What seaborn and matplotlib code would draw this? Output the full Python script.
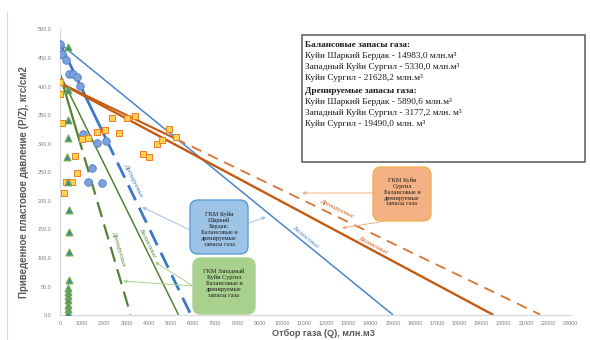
import numpy as np
import pandas as pd
import matplotlib
matplotlib.use("Agg")
import matplotlib.pyplot as plt
import seaborn as sns
from matplotlib.patches import FancyBboxPatch, Rectangle
from matplotlib.lines import Line2D
from matplotlib.transforms import IdentityTransform

# ---- measured P/Z versus cumulative production ----
# Куйи Шаркий Бердак
q_kshb = [0, 0, 100, 250, 400, 600, 750, 900, 1050, 1650, 2050, 1450, 1250, 1900]
p_kshb = [474, 455, 455, 446, 421, 421, 416, 400, 316, 300, 304, 257, 232, 230]

# Куйи Сургил
q_ks = [0, 0, 100, 670, 780, 270, 400, 520, 180, 1000, 1270, 1650, 2030, 2650,
        2350, 3000, 3370, 3720, 4030, 4370, 4600, 4900, 5220]
p_ks = [407, 385, 335, 278, 247, 232, 232, 231, 212, 307, 309, 320, 323, 318,
        344, 343, 348, 281, 276, 299, 305, 325, 311]

# Западный Куйи Сургил
q_zks = [350, 350, 380, 380, 330, 380, 400, 420, 420, 420, 380, 380, 370, 370, 370, 370, 380]
p_zks = [468, 393, 341, 309, 276, 232, 182, 145, 110, 61, 47, 40, 33, 26, 17, 9, 2]

# ---- P/Z trend lines: start value and Q where P/Z reaches zero ----
fields = ["Куйи Шаркий Бердак", "Западный Куйи Сургил", "Куйи Сургил"]
pz_start = [474.0, 420.0, 405.0]
q_zero_balance = [14983.0, 5330.0, 19490.0]
q_zero_drained = [5890.6, 3177.2, 21628.2]
q_fit_end = [2100.0, 800.0, 5200.0]

y_ticks = np.arange(0, 501, 50)
x_ticks = np.arange(0, 23001, 1000)

# ---- styling ----
sns.set_style("white")
plt.rcParams["font.family"] = ["Liberation Sans", "DejaVu Sans"]
SERIF = ["Liberation Serif", "DejaVu Serif"]

BLUE = "#4A86C8"
BLUE_DARK = "#3B78C6"
GREEN = "#548235"
ORANGE = "#C55A11"
ORANGE_D = "#D8742E"
GRAY = "#595959"

W, H = 590, 340
fig = plt.figure(figsize=(W / 100, H / 100), dpi=100)
ax = fig.add_axes([60 / W, (H - 314.5) / H, 510.5 / W, 285.8 / H])
ax.set_xlim(0, 23000)
ax.set_ylim(0, 500)


def trend(p0, q0, q_from, q_to, **kw):
    q = np.array([q_from, q_to])
    df = pd.DataFrame({"Q": q, "PZ": p0 * (1 - q / q0)})
    sns.lineplot(data=df, x="Q", y="PZ", ax=ax, legend=False, **kw)


# Куйи Шаркий Бердак
trend(pz_start[0], q_zero_balance[0], 0, q_zero_balance[0], color=BLUE, lw=1.1)
trend(pz_start[0], q_zero_drained[0], 0, q_fit_end[0], color=BLUE_DARK, lw=2.0)
trend(pz_start[0], q_zero_drained[0], q_fit_end[0], q_zero_drained[0],
      color=BLUE_DARK, lw=2.0, linestyle=(0, (6, 3)))
# Западный Куйи Сургил
trend(pz_start[1], q_zero_balance[1], 0, q_zero_balance[1], color=GREEN, lw=1.1)
trend(pz_start[1], q_zero_drained[1], 0, q_fit_end[1], color=GREEN, lw=1.6)
trend(pz_start[1], q_zero_drained[1], q_fit_end[1], q_zero_drained[1],
      color=GREEN, lw=1.6, linestyle=(0, (7, 3.5)))
# Куйи Сургил
trend(pz_start[2], q_zero_balance[2], 0, q_zero_balance[2], color=ORANGE, lw=1.7)
trend(pz_start[2], q_zero_drained[2], 0, q_fit_end[2], color=ORANGE, lw=1.5)
trend(pz_start[2], q_zero_drained[2], q_fit_end[2], q_zero_drained[2],
      color=ORANGE_D, lw=1.3, linestyle=(0, (6, 4)))

# measured points
sns.scatterplot(x=q_kshb, y=p_kshb, ax=ax, marker="o", s=30,
                color="#7EA1DB", edgecolor="#4F7FC9", linewidth=0.6, zorder=4)
sns.scatterplot(x=q_ks, y=p_ks, ax=ax, marker="s", s=21,
                color="#FFD34D", edgecolor="#ED7D31", linewidth=0.7, zorder=4)
sns.scatterplot(x=q_zks, y=p_zks, ax=ax, marker="^", s=22,
                color="#3E7FB0", edgecolor="#70AD47", linewidth=1.0, zorder=4)

# axes
ax.set_xticks(x_ticks)
ax.set_xticklabels([f"{v:d}" for v in x_ticks])
ax.set_yticks(y_ticks)
ax.set_yticklabels([f"{v:.1f}".replace(".", ",") for v in y_ticks])
ax.tick_params(axis="both", length=0, labelsize=3.9, colors="#7F7F7F")
ax.tick_params(axis="y", pad=6)
ax.tick_params(axis="x", pad=5)
ax.set_xlabel("")
ax.set_ylabel("")
for side in ["top", "right"]:
    ax.spines[side].set_visible(False)
for side in ["left", "bottom"]:
    ax.spines[side].set_color("#D9D9D9")
    ax.spines[side].set_linewidth(0.9)

fig.text(24 / W, 1 - 182 / H, "Приведенное пластовое давление (P/Z), кгс/см2",
         rotation=90, ha="center", va="center", fontsize=7.0,
         fontweight="bold", color=GRAY)
fig.text(323 / W, 1 - 333 / H, "Отбор газа (Q), млн.м3", ha="center",
         va="center", fontsize=6.6, fontweight="bold", color=GRAY)

# outer chart frame edge
fig.add_artist(Line2D([7 / W, 7 / W], [0, 1 - 12 / H], transform=fig.transFigure,
                      color="#D9D9D9", lw=0.8))


# labels along the trend lines
def along(text, p0, q0, q, pz, color):
    x1, y1 = ax.transData.transform((0, p0))
    x2, y2 = ax.transData.transform((q0, 0))
    ang = np.degrees(np.arctan2(y2 - y1, x2 - x1))
    ax.text(q, pz, text, rotation=ang, rotation_mode="anchor", ha="center",
            va="center", fontsize=4.6, style="italic", color=color,
            family=SERIF, zorder=5)


along("Дренируемые", pz_start[0], q_zero_drained[0], 3338, 234, BLUE_DARK)
along("Балансовые", pz_start[0], q_zero_balance[0], 11050, 135, BLUE)
along("Балансовые", pz_start[1], q_zero_balance[1], 3924, 126, GREEN)
along("Дренируемые", pz_start[1], q_zero_drained[1], 2661, 115, GREEN)
along("Дренируемые", pz_start[2], q_zero_drained[2], 12490, 185, ORANGE)
along("Балансовые", pz_start[2], q_zero_balance[2], 14120, 121, ORANGE)


# callout boxes (pixel geometry, y measured from top)
def callout(x0, y0, x1, y1, text, face, edge, ty=None):
    patch = FancyBboxPatch((x0, H - y1), x1 - x0, y1 - y0,
                           boxstyle="round,pad=0,rounding_size=8",
                           transform=IdentityTransform(), facecolor=face,
                           edgecolor=edge, lw=1.0, zorder=6)
    fig.add_artist(patch)
    cy = (y0 + y1) / 2 if ty is None else ty
    fig.text((x0 + x1) / 2 / W, 1 - cy / H, text, ha="center", va="center",
             fontsize=4.5, family=SERIF, color="#1a1a1a", linespacing=1.2,
             zorder=7)


def arrow(xs, ys, xe, ye, color):
    ax.annotate("", xy=(xe, H - ye), xytext=(xs, H - ys),
                xycoords="figure pixels", textcoords="figure pixels",
                arrowprops=dict(arrowstyle="-|>", color=color, lw=0.7,
                                mutation_scale=5, shrinkA=0, shrinkB=0),
                zorder=5)


arrow(190, 230, 142, 207, "#9DC3E6")
arrow(249, 223, 266, 217, "#9DC3E6")
arrow(193, 286, 155, 262, "#A9D18E")
arrow(193, 286, 123, 281, "#A9D18E")
arrow(373, 193, 302, 193, "#F4B183")
arrow(380, 222, 342, 228, "#F4B183")

callout(190, 200, 248, 254,
        "ГКМ Куйи\nШаркий\nБердак:\nБалансовые и\nдренируемые\nзапасы газа",
        "#9DC3E6", "#5B9BD5", ty=229)
callout(193, 258, 255, 314,
        "ГКМ Западный\nКуйи Сургил\nБалансовые и\nдренируемые\nзапасы газа",
        "#A9D18E", "#A9D18E", ty=283)
callout(373, 167, 431, 221,
        "ГКМ Куйи\nСургил\nБалансовые и\nдренируемые\nзапасы газа",
        "#F4B183", "#EBB257", ty=192)

# reserves summary box
fig.add_artist(Rectangle((302, H - 162), 283, 127, transform=IdentityTransform(),
                         facecolor="white", edgecolor="#595959", lw=1.1, zorder=6))
summary = [
    (45, "Балансовые запасы газа:", "bold"),
    (56, "Куйи Шаркий Бердак - 14983,0 млн.м³", "normal"),
    (67, "Западный Куйи Сургил - 5330,0 млн.м³", "normal"),
    (78, "Куйи Сургил - 21628,2 млн.м³", "normal"),
    (91, "Дренируемые запасы газа:", "bold"),
    (102, "Куйи Шаркий Бердак - 5890,6 млн.м³", "normal"),
    (113, "Западный Куйи Сургил - 3177,2 млн. м³", "normal"),
    (123.5, "Куйи Сургил - 19490,0 млн. м³", "normal"),
]
for y, line, weight in summary:
    fig.text(305 / W, 1 - y / H, line, ha="left", va="center", fontsize=6.7,
             family=SERIF, fontweight=weight, color="#1a1a1a", zorder=7)

fig.savefig("out.png", dpi=100)
